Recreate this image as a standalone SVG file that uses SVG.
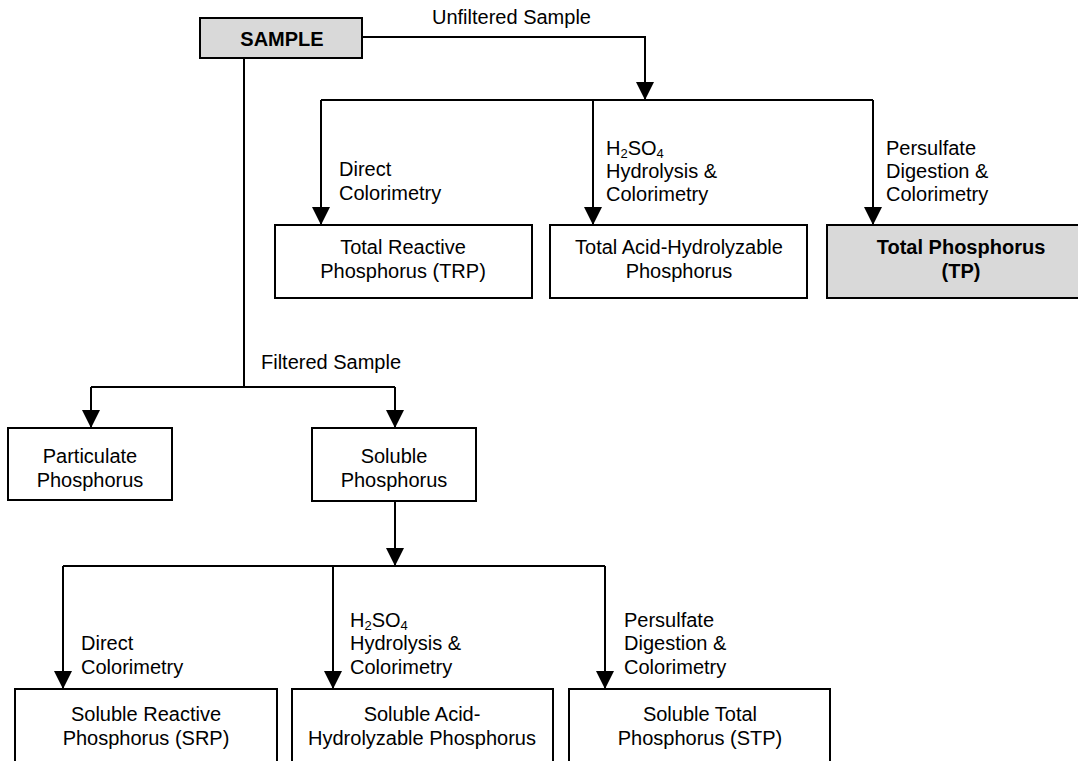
<svg xmlns="http://www.w3.org/2000/svg" width="1078" height="761" viewBox="0 0 1078 761">
<style>
  .box { fill: #ffffff; stroke: #000000; stroke-width: 2; }
  .grey { fill: #d9d9d9; }
  .ln { fill: none; stroke: #000000; stroke-width: 2; }
  .arr { marker-end: url(#ah); }
  text { font-family: "Liberation Sans", Arial, sans-serif; font-size: 20px; fill: #000000; }
  .c { text-anchor: middle; }
  .b { font-weight: bold; }
  .sub { font-size: 13px; }
</style>
<defs>
  <marker id="ah" markerUnits="userSpaceOnUse" markerWidth="18" markerHeight="18" refX="18" refY="9" orient="auto" viewBox="0 0 18 18">
    <path d="M0,0 L18,9 L0,18 Z" fill="#000000"/>
  </marker>
</defs>
<rect width="1078" height="761" fill="#ffffff"/>

<g id="connectors">
  <path class="ln arr" d="M362,37 H645 V100"/>
  <path class="ln" d="M321,100 H873"/>
  <path class="ln arr" d="M321,100 V225"/>
  <path class="ln arr" d="M593,100 V225"/>
  <path class="ln arr" d="M873,100 V225"/>
  <path class="ln" d="M244,58 V387"/>
  <path class="ln" d="M91,387 H395"/>
  <path class="ln arr" d="M91,387 V428"/>
  <path class="ln arr" d="M395,387 V428"/>
  <path class="ln arr" d="M395,501 V566"/>
  <path class="ln" d="M63,566 H605"/>
  <path class="ln arr" d="M63,566 V689"/>
  <path class="ln arr" d="M333,566 V689"/>
  <path class="ln arr" d="M605,566 V689"/>
</g>

<g id="connector-labels">
  <text x="432" y="24">Unfiltered Sample</text>
  <text x="339" y="176">Direct</text>
  <text x="339" y="200">Colorimetry</text>
  <text x="606" y="155">H<tspan class="sub" dy="3">2</tspan><tspan dy="-3">SO</tspan><tspan class="sub" dy="3">4</tspan></text>
  <text x="606" y="178">Hydrolysis &amp;</text>
  <text x="606" y="201">Colorimetry</text>
  <text x="886" y="155">Persulfate</text>
  <text x="886" y="178">Digestion &amp;</text>
  <text x="886" y="201">Colorimetry</text>
  <text x="261" y="369">Filtered Sample</text>
  <text x="81" y="650">Direct</text>
  <text x="81" y="674">Colorimetry</text>
  <text x="350" y="627">H<tspan class="sub" dy="3">2</tspan><tspan dy="-3">SO</tspan><tspan class="sub" dy="3">4</tspan></text>
  <text x="350" y="650">Hydrolysis &amp;</text>
  <text x="350" y="674">Colorimetry</text>
  <text x="624" y="627">Persulfate</text>
  <text x="624" y="650">Digestion &amp;</text>
  <text x="624" y="674">Colorimetry</text>
</g>

<g id="sample">
  <rect class="box grey" x="200" y="18" width="162" height="40"/>
  <text class="c b" x="282" y="46">SAMPLE</text>
</g>

<g id="trp">
  <rect class="box" x="275" y="225" width="257" height="73"/>
  <text class="c" x="403" y="254">Total Reactive</text>
  <text class="c" x="403" y="278">Phosphorus (TRP)</text>
</g>

<g id="tahp">
  <rect class="box" x="550" y="225" width="257" height="73"/>
  <text class="c" x="679" y="254">Total Acid-Hydrolyzable</text>
  <text class="c" x="679" y="278">Phosphorus</text>
</g>

<g id="tp">
  <rect class="box grey" x="827" y="225" width="268" height="73"/>
  <text class="c b" x="961" y="254">Total Phosphorus</text>
  <text class="c b" x="961" y="278">(TP)</text>
</g>

<g id="particulate">
  <rect class="box" x="8" y="428" width="164" height="72"/>
  <text class="c" x="90" y="463">Particulate</text>
  <text class="c" x="90" y="487">Phosphorus</text>
</g>

<g id="soluble">
  <rect class="box" x="312" y="428" width="164" height="73"/>
  <text class="c" x="394" y="463">Soluble</text>
  <text class="c" x="394" y="487">Phosphorus</text>
</g>

<g id="srp">
  <rect class="box" x="15" y="689" width="262" height="90"/>
  <text class="c" x="146" y="721">Soluble Reactive</text>
  <text class="c" x="146" y="745">Phosphorus (SRP)</text>
</g>

<g id="sahp">
  <rect class="box" x="292" y="689" width="261" height="90"/>
  <text class="c" x="422" y="721">Soluble Acid-</text>
  <text class="c" x="422" y="745">Hydrolyzable Phosphorus</text>
</g>

<g id="stp">
  <rect class="box" x="569" y="689" width="261" height="90"/>
  <text class="c" x="700" y="721">Soluble Total</text>
  <text class="c" x="700" y="745">Phosphorus (STP)</text>
</g>
</svg>
